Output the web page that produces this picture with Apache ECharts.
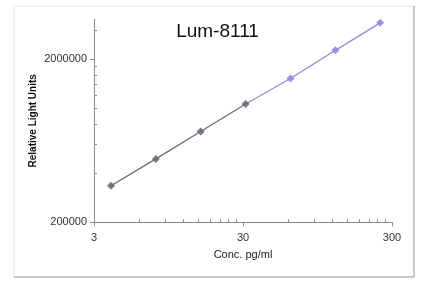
<!DOCTYPE html>
<html><head><meta charset="utf-8">
<script src="https://cdn.jsdelivr.net/npm/echarts@6/dist/echarts.min.js"></script>
<style>html,body{margin:0;padding:0;background:#fff}#c{width:435px;height:293px}</style>
</head><body><div id="c"></div>
<script>
const titleText = 'Lum-8111';
const conc = [3.9, 7.8, 15.6, 31.25, 62.5, 125, 250];
const rlu = [335000, 489000, 719000, 1060000, 1520000, 2260000, 3330000];
const xTickLabels = [3, 30, 300];
const yTickLabels = [200000, 2000000];
const xMinorTicks = [6, 9, 12, 15, 18, 21, 24, 27, 60, 90, 120, 150, 180, 210, 240, 270];
const yMinorTicks = [400000, 600000, 800000, 1000000, 1200000, 1400000, 1600000, 1800000, 3000000];

const chart = echarts.init(document.getElementById('c'), null, {renderer: 'canvas'});
const font = 'Liberation Sans, Arial, sans-serif';
const grid = {left: 94, right: 43, top: 19.3, bottom: 70.7};
const axisLineStyle = {color: '#8a8a8a', width: 1};
const gray = '#6a6a78', blue = '#8c8ce2';
chart.setOption({
  animation: false,
  title: {text: titleText, left: 'center', top: 17, textStyle: {fontFamily: font, fontSize: 19, fontWeight: 'normal', color: '#111'}},
  grid: grid,
  xAxis: [{
    type: 'log', logBase: 10, min: 3, max: 300,
    name: 'Conc. pg/ml', nameLocation: 'middle', nameGap: 27,
    nameTextStyle: {fontFamily: font, fontSize: 11, color: '#222'},
    axisLine: {lineStyle: axisLineStyle},
    axisTick: {inside: true, length: 3, lineStyle: axisLineStyle, customValues: xMinorTicks},
    axisLabel: {customValues: xTickLabels, fontFamily: font, fontSize: 11, color: '#333', margin: 10, formatter: v => String(v)},
    splitLine: {show: false}
  }, {
    type: 'log', logBase: 10, min: 3, max: 300, position: 'bottom',
    axisLine: {show: false},
    axisTick: {inside: false, length: 4, lineStyle: axisLineStyle, customValues: xTickLabels},
    axisLabel: {show: false}, splitLine: {show: false}
  }],
  yAxis: [{
    type: 'log', logBase: 10, min: 200000, max: 3500000,
    name: 'Relative Light Units', nameLocation: 'middle', nameGap: 56, nameMoveOverlap: false,
    nameTextStyle: {fontFamily: font, fontSize: 10, fontWeight: 'bold', color: '#111'},
    axisLine: {show: true, lineStyle: axisLineStyle},
    axisTick: {show: true, inside: true, length: 3, lineStyle: axisLineStyle, customValues: yMinorTicks},
    axisLabel: {customValues: yTickLabels, fontFamily: font, fontSize: 11, color: '#333', margin: 7, formatter: v => String(v)},
    splitLine: {show: false}
  }, {
    type: 'log', logBase: 10, min: 200000, max: 3500000, position: 'left',
    axisLine: {show: false},
    axisTick: {show: true, inside: false, length: 4, lineStyle: axisLineStyle, customValues: yTickLabels},
    axisLabel: {show: false}, splitLine: {show: false}
  }],
  graphic: [
    {type: 'line', shape: {x1: 14, y1: 6, x2: 414, y2: 6}, style: {stroke: '#e6e6e6', lineWidth: 1}},
    {type: 'line', shape: {x1: 14, y1: 6, x2: 14, y2: 277}, style: {stroke: '#e6e6e6', lineWidth: 1}},
    {type: 'line', shape: {x1: 414, y1: 6, x2: 414, y2: 277}, style: {stroke: '#8f8f8f', lineWidth: 1}},
    {type: 'line', shape: {x1: 14, y1: 277, x2: 414, y2: 277}, style: {stroke: '#8f8f8f', lineWidth: 1}}
  ],
  series: [{
    type: 'line',
    xAxisIndex: 0, yAxisIndex: 0,
    data: conc.map((c, i) => [c, rlu[i]]),
    symbol: 'diamond', symbolSize: 8,
    lineStyle: {width: 1.3, color: new echarts.graphic.LinearGradient(0, 0, 1, 0, [
      {offset: 0, color: gray}, {offset: 0.47, color: gray}, {offset: 0.53, color: blue}, {offset: 1, color: blue}])},
    itemStyle: {opacity: 0.9, color: p => (p.data[0] < 40 ? gray : blue)}
  }]
});
</script></body></html>
